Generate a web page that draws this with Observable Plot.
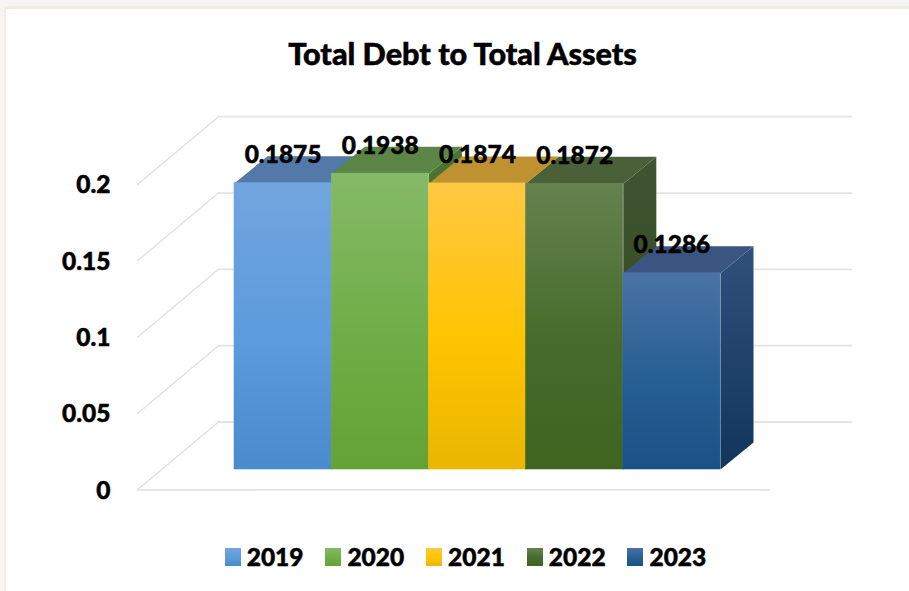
<!DOCTYPE html>
<html>
<head>
<meta charset="utf-8">
<script src="https://cdn.jsdelivr.net/npm/d3@7"></script>
<script src="https://cdn.jsdelivr.net/npm/@observablehq/plot@0.6"></script>
<style>
  html, body { margin: 0; padding: 0; width: 909px; height: 591px; overflow: hidden; background: #f7f5f4; }
  #frame { position: absolute; left: 4px; top: 6px; width: 905px; height: 585px; box-sizing: border-box;
           background: #fff; border-left: 2px solid #eeeee6; border-top: 3px solid #eeeee6; }
  #title { position: absolute; left: 0; top: 34px; width: 925px; text-align: center; color: #000;
           font: 900 30.6px Lato, sans-serif; line-height: 40px; -webkit-text-stroke: 0.5px #000; }
  #chart { position: absolute; left: 0; top: 90px; }
  #chart svg { overflow: visible; background: transparent; }
  #chart svg text { stroke: #000; stroke-width: 0.5px; }
  #legend { position: absolute; left: 224.7px; top: 540px; display: flex; color: #000;
            font: 900 24.5px Lato, sans-serif; line-height: 34px; -webkit-text-stroke: 0.5px #000; }
  .item { width: 100.7px; display: flex; align-items: center; }
  .swatch { width: 16px; height: 18px; margin-right: 6px; }
</style>
</head>
<body>
<div id="frame"></div>
<div id="title"></div>
<div id="chart"></div>
<div id="legend"></div>
<script>
const chartTitle = "Total Debt to Total Assets";
const years = ["2019", "2020", "2021", "2022", "2023"];
const values = [0.1875, 0.1938, 0.1874, 0.1872, 0.1286];
const valueLabels = ["0.1875", "0.1938", "0.1874", "0.1872", "0.1286"];
const axisTicks = [0, 0.05, 0.1, 0.15, 0.2];
const axisLabels = ["0", "0.05", "0.1", "0.15", "0.2"];

const frontTop = ["#72a5de", "#85ba68", "#ffc843", "#65824f", "#4b72a5"];
const frontMid = ["#5c9bdc", "#70ad47", "#ffc400", "#466b2c", "#265f93"];
const frontBottom = ["#4a8bcc", "#64a234", "#e9b602", "#3f6420", "#1a5186"];
const topFace = ["#5279a8", "#5c8645", "#bf9130", "#4a6038", "#3a5580"];
const sideTop = ["#3f6690", "#4b7335", "#a67e1e", "#3f5532", "#30507a"];
const sideBottom = ["#2a5a8c", "#3f6a22", "#a07c00", "#2f4619", "#11365a"];

// Oblique projection of the box, in data units
const depthX = 0.34;      // bar depth along x
const depthY = 0.0177;    // bar depth along y
const floorY = 0.0133;    // bar base above the front axis plane
const wallX = 0.833;      // wall depth along x
const wallY = 0.0444;     // wall depth along y
const xMin = -0.998, xMax = 6.348, floorEnd = 5.5;

const wallLines = axisTicks.map(t => [{x: xMin + wallX, y: t + wallY}, {x: xMax, y: t + wallY}]);
const sideLines = axisTicks.map(t => [{x: xMin, y: t}, {x: xMin + wallX, y: t + wallY}]);
const floorLine = [{x: xMin, y: 0}, {x: floorEnd, y: 0}];

const defs = () => {
  const ns = "http://www.w3.org/2000/svg";
  const d = document.createElementNS(ns, "defs");
  const grad = (id, stops) => {
    const g = document.createElementNS(ns, "linearGradient");
    g.setAttribute("id", id);
    g.setAttribute("x1", 0); g.setAttribute("x2", 0);
    g.setAttribute("y1", 0); g.setAttribute("y2", 1);
    stops.forEach(([o, c]) => {
      const s = document.createElementNS(ns, "stop");
      s.setAttribute("offset", o);
      s.setAttribute("stop-color", c);
      g.appendChild(s);
    });
    d.appendChild(g);
  };
  years.forEach((y, i) => {
    grad("front" + y, [[0, frontTop[i]], [0.55, frontMid[i]], [1, frontBottom[i]]]);
    grad("side" + y, [[0, sideTop[i]], [1, sideBottom[i]]]);
  });
  return d;
};

const barMarks = years.flatMap((y, i) => {
  const v = values[i] + floorY;
  const top = [{x: i, y: v}, {x: i + 1, y: v}, {x: i + 1 + depthX, y: v + depthY}, {x: i + depthX, y: v + depthY}];
  const side = [{x: i + 1, y: floorY}, {x: i + 1, y: v}, {x: i + 1 + depthX, y: v + depthY}, {x: i + 1 + depthX, y: floorY + depthY}];
  return [
    Plot.line(side, {x: "x", y: "y", fill: `url(#side${y})`, stroke: "none"}),
    Plot.line(top, {x: "x", y: "y", fill: topFace[i], stroke: "none"}),
    Plot.rect([{}], {x1: () => i, x2: () => i + 1, y1: () => floorY, y2: () => v, fill: `url(#front${y})`, stroke: `url(#front${y})`, strokeWidth: 0.6})
  ];
});

const plot = Plot.plot({
  width: 909,
  height: 430,
  marginLeft: 137,
  marginRight: 58,
  marginTop: 94,
  marginBottom: 30.7,
  style: {background: "transparent", fontFamily: "Lato, sans-serif"},
  x: {domain: [xMin, xMax], axis: null},
  y: {domain: [0, 0.2]},
  marks: [
    defs,
    ...wallLines.map(l => Plot.line(l, {x: "x", y: "y", stroke: "#e4e4e4", strokeWidth: 1.8})),
    ...sideLines.map(l => Plot.line(l, {x: "x", y: "y", stroke: "#e0e0e0", strokeWidth: 1.3})),
    Plot.line(floorLine, {x: "x", y: "y", stroke: "#e4e4e4", strokeWidth: 1.8}),
    ...barMarks,
    Plot.axisY({
      anchor: "left", ticks: axisTicks, tickSize: 0, tickPadding: 27, label: null,
      tickFormat: t => axisLabels[axisTicks.indexOf(t)],
      fontSize: 24.5, fontWeight: 900, fill: "#000", dy: 1
    }),
    Plot.text(years, {
      x: (d, i) => i + 0.5,
      y: (d, i) => values[i] + floorY,
      text: (d, i) => valueLabels[i],
      dy: -28, fontSize: 24.5, fontWeight: 900, fill: "#000", lineAnchor: "middle"
    })
  ]
});

document.getElementById("title").textContent = chartTitle;
document.getElementById("chart").appendChild(plot);
const legend = document.getElementById("legend");
years.forEach((y, i) => {
  const item = document.createElement("div");
  item.className = "item";
  const sw = document.createElement("div");
  sw.className = "swatch";
  sw.style.background = `linear-gradient(${frontTop[i]}, ${frontMid[i]} 55%, ${frontBottom[i]})`;
  const label = document.createElement("span");
  label.textContent = y;
  item.append(sw, label);
  legend.appendChild(item);
});
</script>
</body>
</html>
